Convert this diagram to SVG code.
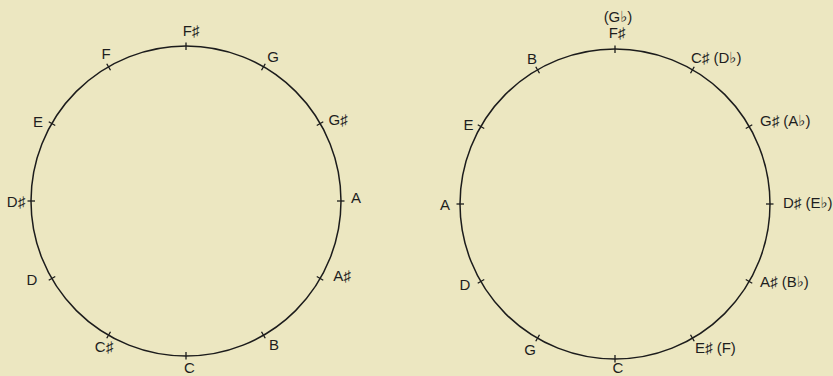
<svg xmlns="http://www.w3.org/2000/svg" xmlns:xlink="http://www.w3.org/1999/xlink" width="833" height="376" viewBox="0 0 833 376">
  <style>
    .ring { fill: none; stroke: #1c1c1c; stroke-width: 1.5; }
    .tick { stroke: #1c1c1c; stroke-width: 1.3; }
    .lbl { font-family: "Liberation Sans", "DejaVu Sans", sans-serif; font-size: 15px; fill: #1e1e1e; }
    .m { text-anchor: middle; }
    .s { text-anchor: start; }
  </style>
  <defs>
    <line id="tickL" class="tick" x1="186" y1="42.5" x2="186" y2="50"/>
    <line id="tickR" class="tick" x1="615" y1="45.5" x2="615" y2="53"/>
  </defs>
  <rect width="833" height="376" fill="#ece7c1"/>

  <g id="left-circle">
    <circle class="ring" cx="186" cy="201" r="155"/>
    <g id="left-ticks">
      <use xlink:href="#tickL"/>
      <use xlink:href="#tickL" transform="rotate(30 186 201)"/>
      <use xlink:href="#tickL" transform="rotate(60 186 201)"/>
      <use xlink:href="#tickL" transform="rotate(90 186 201)"/>
      <use xlink:href="#tickL" transform="rotate(120 186 201)"/>
      <use xlink:href="#tickL" transform="rotate(150 186 201)"/>
      <use xlink:href="#tickL" transform="rotate(180 186 201)"/>
      <use xlink:href="#tickL" transform="rotate(210 186 201)"/>
      <use xlink:href="#tickL" transform="rotate(240 186 201)"/>
      <use xlink:href="#tickL" transform="rotate(270 186 201)"/>
      <use xlink:href="#tickL" transform="rotate(300 186 201)"/>
      <use xlink:href="#tickL" transform="rotate(330 186 201)"/>
    </g>
    <g id="left-labels" class="lbl">
      <text class="m" x="191" y="36">F♯</text>
      <text class="m" x="106" y="59">F</text>
      <text class="m" x="273" y="62">G</text>
      <text class="m" x="38" y="127">E</text>
      <text class="m" x="338" y="125">G♯</text>
      <text class="m" x="16" y="207">D♯</text>
      <text class="m" x="356" y="203">A</text>
      <text class="m" x="32" y="285">D</text>
      <text class="m" x="342" y="281">A♯</text>
      <text class="m" x="104" y="352">C♯</text>
      <text class="m" x="274" y="350">B</text>
      <text class="m" x="189.5" y="372.5">C</text>
    </g>
  </g>

  <g id="right-circle">
    <circle class="ring" cx="615" cy="204" r="155"/>
    <g id="right-ticks">
      <use xlink:href="#tickR"/>
      <use xlink:href="#tickR" transform="rotate(30 615 204)"/>
      <use xlink:href="#tickR" transform="rotate(60 615 204)"/>
      <use xlink:href="#tickR" transform="rotate(90 615 204)"/>
      <use xlink:href="#tickR" transform="rotate(120 615 204)"/>
      <use xlink:href="#tickR" transform="rotate(150 615 204)"/>
      <use xlink:href="#tickR" transform="rotate(180 615 204)"/>
      <use xlink:href="#tickR" transform="rotate(210 615 204)"/>
      <use xlink:href="#tickR" transform="rotate(240 615 204)"/>
      <use xlink:href="#tickR" transform="rotate(270 615 204)"/>
      <use xlink:href="#tickR" transform="rotate(300 615 204)"/>
      <use xlink:href="#tickR" transform="rotate(330 615 204)"/>
    </g>
    <g id="right-labels" class="lbl">
      <text class="m" x="618" y="22">(G♭)</text>
      <text class="m" x="617" y="38">F♯</text>
      <text class="m" x="532" y="64">B</text>
      <text class="s" x="691" y="63">C♯ (D♭)</text>
      <text class="m" x="468.5" y="130">E</text>
      <text class="s" x="760" y="126">G♯ (A♭)</text>
      <text class="m" x="445" y="210">A</text>
      <text class="s" x="783" y="208">D♯ (E♭)</text>
      <text class="m" x="465" y="290">D</text>
      <text class="s" x="760" y="287">A♯ (B♭)</text>
      <text class="m" x="530" y="355">G</text>
      <text class="s" x="695" y="353">E♯ (F)</text>
      <text class="m" x="618" y="372.5">C</text>
    </g>
  </g>
</svg>
